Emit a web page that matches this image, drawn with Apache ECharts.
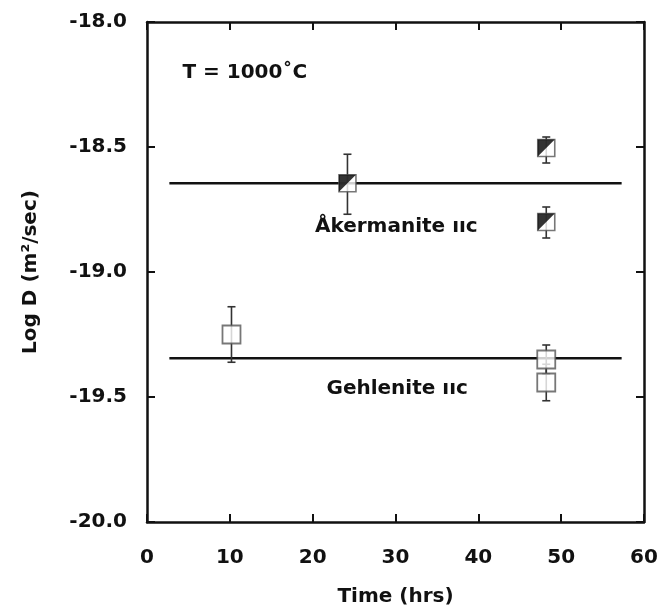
<!DOCTYPE html>
<html>
<head>
<meta charset="utf-8">
<script src="https://cdn.jsdelivr.net/npm/echarts@6/dist/echarts.min.js"></script>
<style>html,body{margin:0;padding:0;background:#fff;}#c{width:658px;height:608px;}</style>
</head>
<body>
<div id="c"></div>
<script>
// ---- data ----
const xMin = 0, xMax = 60, xStep = 10;
const yMin = -20, yMax = -18, yStep = 0.5;

const akX    = [24.2, 48.2, 48.2];
const akY    = [-18.645, -18.504, -18.80];
const akLow  = [-18.769, -18.564, -18.864];
const akHigh = [-18.529, -18.46, -18.74];

const geX    = [10.2, 48.2, 48.2];
const geY    = [-19.25, -19.35, -19.442];
const geLow  = [-19.361, -19.408, -19.515];
const geHigh = [-19.139, -19.292, -19.369];

const fitX   = [2.7, 57.3];
const akFit  = [-18.645, -18.645];
const geFit  = [-19.345, -19.345];

const noteText = ['T = 1000˚C', 'Åkermanite ııc', 'Gehlenite ııc'];
const noteX    = [11.8, 30.1, 30.2];
const noteY    = [-18.204, -18.82, -19.468];

// ---- chart ----
const chart = echarts.init(document.getElementById('c'), null, {renderer: 'canvas'});
const FONT = 'DejaVu Sans';
const INK = '#111';

const pts = (xs, ys) => xs.map((x, i) => [x, ys[i]]);
const errs = (xs, lo, hi) => xs.map((x, i) => [x, lo[i], hi[i]]);

function errRender(params, api) {
  const x = api.value(0);
  const p1 = api.coord([x, api.value(1)]);
  const p2 = api.coord([x, api.value(2)]);
  const cap = 4;
  const st = {stroke: '#333', lineWidth: 1.6};
  return {
    type: 'group',
    children: [
      {type: 'line', shape: {x1: p1[0], y1: p1[1], x2: p2[0], y2: p2[1]}, style: st},
      {type: 'line', shape: {x1: p1[0]-cap, y1: p1[1], x2: p1[0]+cap, y2: p1[1]}, style: st},
      {type: 'line', shape: {x1: p2[0]-cap, y1: p2[1], x2: p2[0]+cap, y2: p2[1]}, style: st}
    ]
  };
}

function noteRender(params, api) {
  const p = api.coord([api.value(0), api.value(1)]);
  return {
    type: 'text', x: p[0], y: p[1],
    style: {text: noteText[params.dataIndex], fill: INK, align: 'center', verticalAlign: 'middle',
            font: 'bold 20px "' + FONT + '"'}
  };
}

const axisLabel = {fontFamily: FONT, fontWeight: 'bold', fontSize: 20, color: INK};

const option = {
  animation: false,
  backgroundColor: '#fff',
  grid: {left: 147, right: 14, top: 22, bottom: 86, show: false, containLabel: false, outerBoundsMode: 'none'},
  xAxis: [
    {
      type: 'value', min: xMin, max: xMax, interval: xStep, position: 'bottom',
      axisLine: {show: true, onZero: false, lineStyle: {color: INK, width: 2.5}},
      axisTick: {show: true, inside: true, length: 8, lineStyle: {color: INK, width: 2}},
      axisLabel: Object.assign({margin: 26, formatter: v => String(v)}, axisLabel),
      splitLine: {show: false},
      name: 'Time (hrs)', nameLocation: 'middle', nameGap: 65,
      nameTextStyle: {fontFamily: FONT, fontWeight: 'bold', fontSize: 20, color: INK}
    },
    {
      type: 'value', min: xMin, max: xMax, interval: xStep, position: 'top',
      axisLine: {show: true, onZero: false, lineStyle: {color: INK, width: 2.5}},
      axisTick: {show: true, inside: true, length: 8, lineStyle: {color: INK, width: 2}},
      axisLabel: {show: false}, splitLine: {show: false}
    }
  ],
  yAxis: [
    {
      type: 'value', min: yMin, max: yMax, interval: yStep, position: 'left',
      axisLine: {show: true, onZero: false, lineStyle: {color: INK, width: 2.5}},
      axisTick: {show: true, inside: true, length: 8, lineStyle: {color: INK, width: 2}},
      axisLabel: Object.assign({margin: 20, formatter: v => v.toFixed(1)}, axisLabel),
      splitLine: {show: false},
      name: 'Log D (m²/sec)', nameLocation: 'middle', nameGap: 106,
      nameTextStyle: {fontFamily: FONT, fontWeight: 'bold', fontSize: 20, color: INK}
    },
    {
      type: 'value', min: yMin, max: yMax, interval: yStep, position: 'right',
      axisLine: {show: true, onZero: false, lineStyle: {color: INK, width: 2.5}},
      axisTick: {show: true, inside: true, length: 8, lineStyle: {color: INK, width: 2}},
      axisLabel: {show: false}, splitLine: {show: false}
    }
  ],
  series: [
    {type: 'line', data: pts(fitX, akFit), symbol: 'none', lineStyle: {color: INK, width: 2.5}, z: 2},
    {type: 'line', data: pts(fitX, geFit), symbol: 'none', lineStyle: {color: INK, width: 2.5}, z: 2},
    {type: 'custom', renderItem: errRender, data: errs(akX, akLow, akHigh), z: 3},
    {type: 'custom', renderItem: errRender, data: errs(geX, geLow, geHigh), z: 3},
    {type: 'scatter', data: pts(geX, geY), symbol: 'rect', symbolSize: 18,
     itemStyle: {color: '#fff', borderColor: '#555', borderWidth: 1.8}, z: 4},
    {type: 'scatter', data: pts(akX, akY), symbol: 'rect', symbolSize: 17,
     itemStyle: {color: '#fff', borderColor: '#555', borderWidth: 1.6}, z: 4},
    {type: 'scatter', data: pts(akX, akY), symbol: 'path://M0,0L10,0L0,10Z', symbolSize: 17,
     itemStyle: {color: '#000'}, z: 5},
    {type: 'custom', renderItem: noteRender, data: pts(noteX, noteY), z: 6, silent: true}
  ]
};
chart.setOption(option);
</script>
</body>
</html>
